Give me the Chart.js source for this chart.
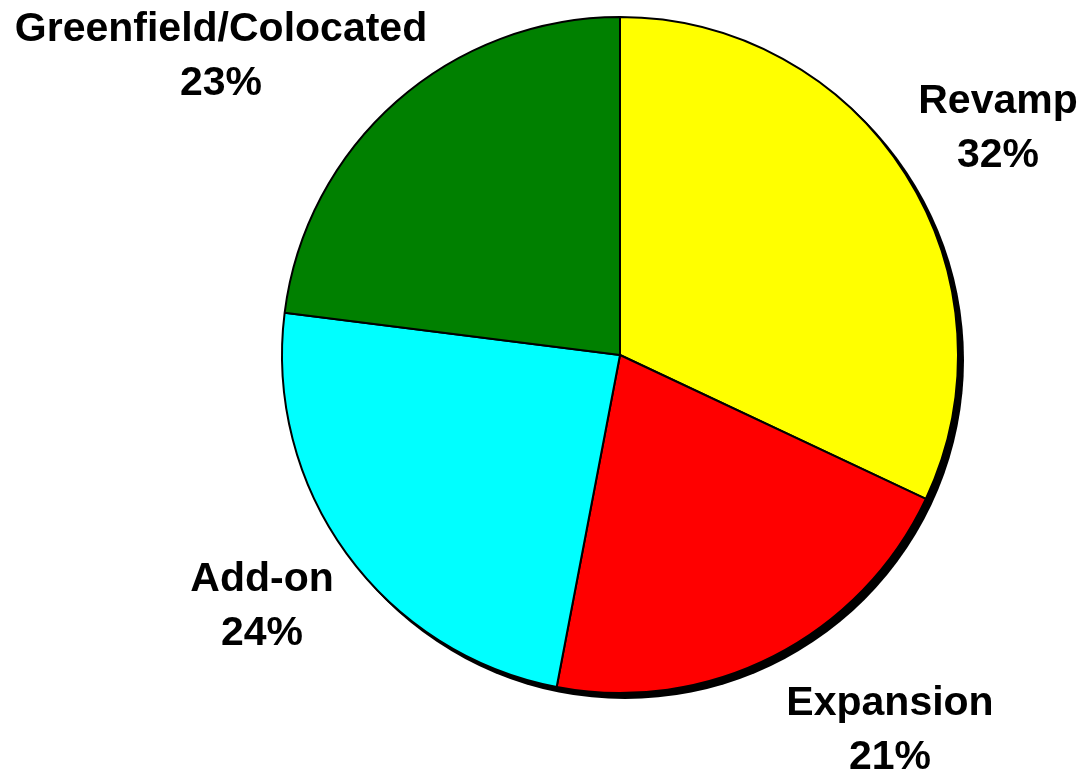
<!DOCTYPE html>
<html>
<head>
<meta charset="utf-8">
<script src="https://cdn.jsdelivr.net/npm/chart.js@4/dist/chart.umd.min.js"></script>
<style>
  html, body { margin: 0; padding: 0; background: #ffffff; }
  #wrap { width: 1084px; height: 776px; position: relative; }
</style>
</head>
<body>
<div id="wrap"><canvas id="pie"></canvas></div>
<script>
// Project types and their share of the total
const categories = ['Revamp', 'Expansion', 'Add-on', 'Greenfield/Colocated'];
const shares = [32, 21, 24, 23];
const sliceColors = ['#ffff00', '#ff0000', '#00ffff', '#008000'];

// Where each two-line label sits (canvas pixels, text centre)
const labelSpots = [[998, 102], [890, 704], [262, 580], [221, 30]];

// Black drop shadow behind the whole pie
const pieShadow = {
  id: 'pieShadow',
  beforeDatasetsDraw(chart) {
    const arc = chart.getDatasetMeta(0).data[0];
    if (!arc) return;
    const { x, y, outerRadius } = arc.getProps(['x', 'y', 'outerRadius'], true);
    const ctx = chart.ctx;
    ctx.save();
    ctx.fillStyle = '#000000';
    ctx.beginPath();
    ctx.arc(x + 5, y + 5, outerRadius + 1, 0, Math.PI * 2);
    ctx.fill();
    ctx.restore();
  }
};

// Category name with its percentage underneath
const sliceLabels = {
  id: 'sliceLabels',
  afterDatasetsDraw(chart) {
    const ctx = chart.ctx;
    const values = chart.data.datasets[0].data;
    ctx.save();
    ctx.fillStyle = '#000000';
    ctx.font = 'bold 41px "Liberation Sans", Arial, Helvetica, sans-serif';
    ctx.textAlign = 'center';
    ctx.textBaseline = 'middle';
    chart.data.labels.forEach((name, i) => {
      const [lx, ly] = labelSpots[i];
      ctx.fillText(name, lx, ly);
      ctx.fillText(values[i] + '%', lx, ly + 54);
    });
    ctx.restore();
  }
};

new Chart(document.getElementById('pie'), {
  type: 'pie',
  data: {
    labels: categories,
    datasets: [{
      data: shares,
      backgroundColor: sliceColors,
      borderColor: '#000000',
      borderWidth: 2,
      borderAlign: 'center',
      hoverOffset: 0
    }]
  },
  options: {
    responsive: true,
    maintainAspectRatio: false,
    animation: false,
    rotation: 0,
    layout: { padding: { left: 281, right: 125, top: 16, bottom: 82 } },
    plugins: {
      legend: { display: false },
      tooltip: { enabled: false }
    }
  },
  plugins: [pieShadow, sliceLabels]
});
</script>
</body>
</html>
